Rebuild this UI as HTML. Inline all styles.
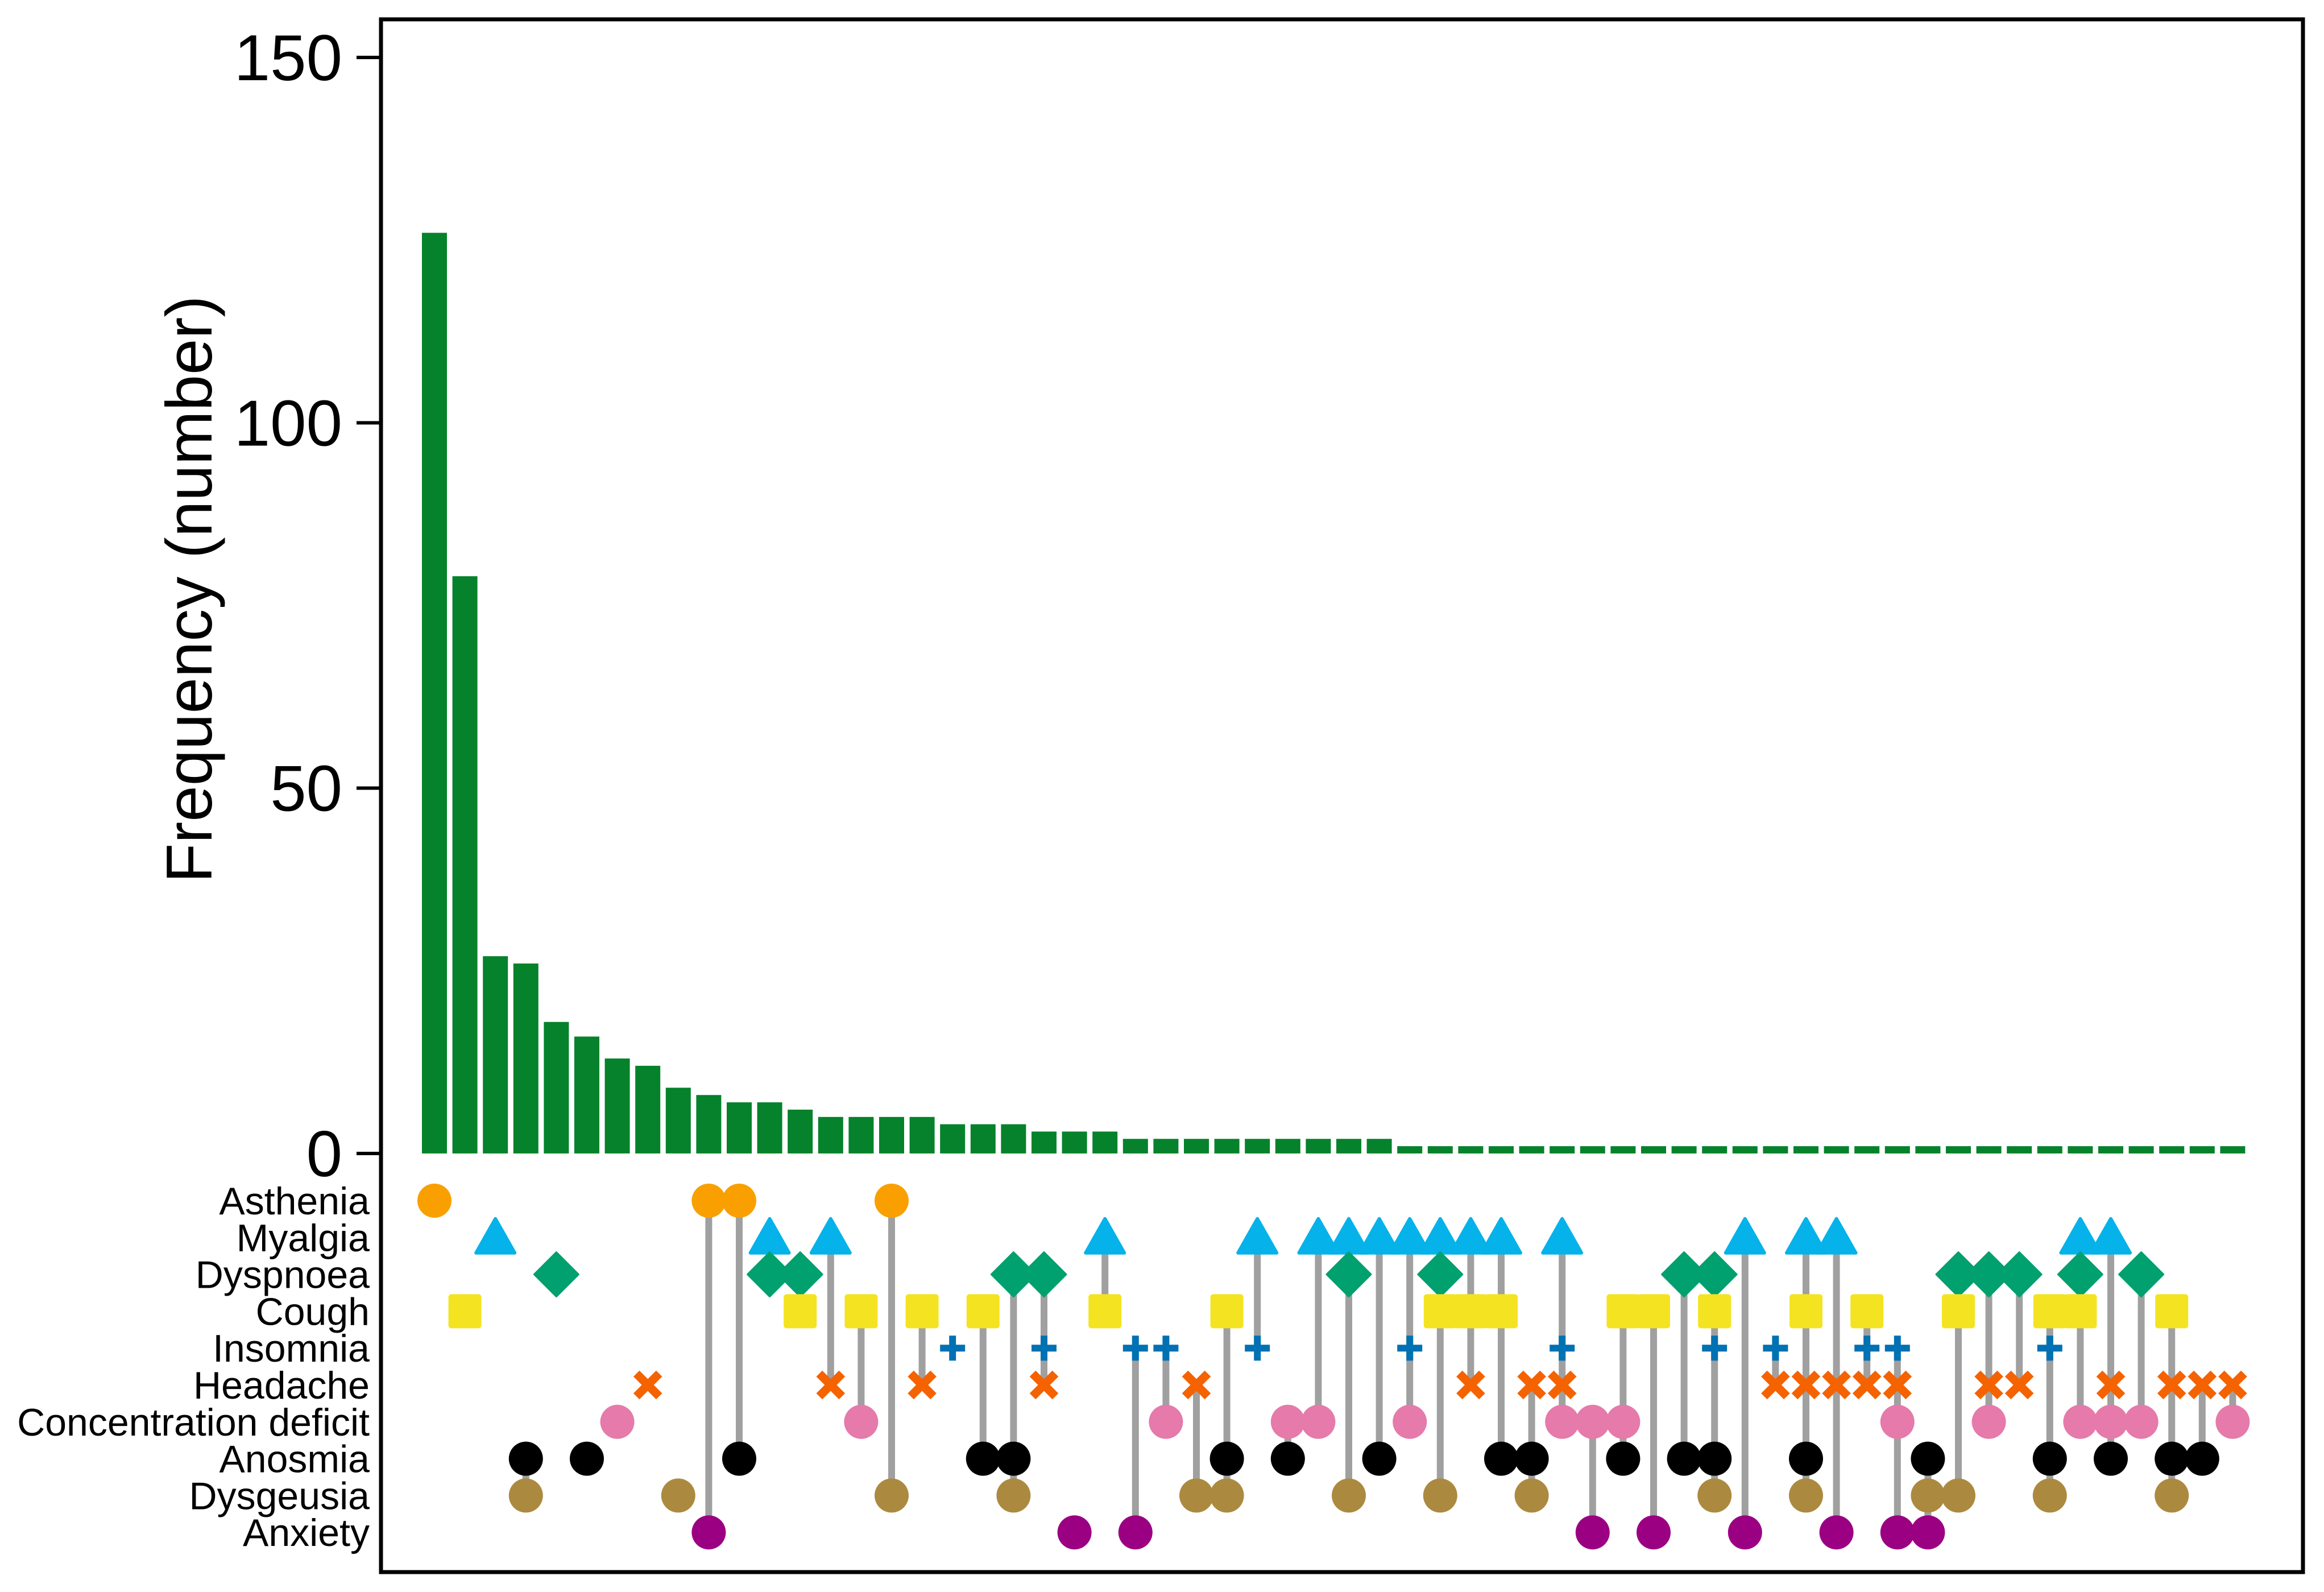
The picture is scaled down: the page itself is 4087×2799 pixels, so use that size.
<!DOCTYPE html>
<html><head><meta charset="utf-8"><style>
html,body{margin:0;padding:0;background:#fff;}
svg{display:block;font-family:"Liberation Sans",Arial,sans-serif;}
</style></head><body>
<svg id="chart" xmlns="http://www.w3.org/2000/svg" width="4087" height="2799" viewBox="0 0 4087 2799">
<rect x="0" y="0" width="4087" height="2799" fill="#fff"/>
<g id="bars"></g>
<g id="matrix"></g>
<g id="axes"></g>
<rect x="670" y="34" width="3380" height="2730" fill="none" stroke="#000" stroke-width="7"/>
<text x="372" y="1036" font-size="114" text-anchor="middle" transform="rotate(-90 372 1036)">Frequency (number)</text>
</svg>
<script>
const symptoms = ["Asthenia","Myalgia","Dyspnoea","Cough","Insomnia","Headache","Concentration deficit","Anosmia","Dysgeusia","Anxiety"];
const frequencies = [126,79,27,26,18,16,13,12,9,8,7,7,6,5,5,5,5,4,4,4,3,3,3,2,2,2,2,2,2,2,2,2,1,1,1,1,1,1,1,1,1,1,1,1,1,1,1,1,1,1,1,1,1,1,1,1,1,1,1,1];
const combinations = [
 [0],[3],[1],[7,8],[2],[7],[6],[5],[8],[0,9],
 [0,7],[1,2],[2,3],[1,5],[3,6],[0,8],[3,5],[4],[3,7],[2,7,8],
 [2,4,5],[9],[1,3],[4,9],[4,6],[5,8],[3,7,8],[1,4],[6,7],[1,6],
 [1,2,8],[1,7],[1,4,6],[1,2,3,8],[1,3,5],[1,3,7],[5,7,8],[1,4,5,6],[6,9],[3,6,7],
 [3,9],[2,7],[2,3,4,7,8],[1,9],[4,5],[1,3,5,7,8],[1,5,9],[3,4,5],[4,5,6,9],[7,8,9],
 [2,3,8],[2,5,6],[2,5],[3,4,7,8],[1,2,3,6],[1,5,6,7],[2,6],[3,5,7,8],[5,7],[5,6]
];
const yTicks = [0,50,100,150];

const NS="http://www.w3.org/2000/svg";
const x0=764, step=53.6, y0=2028, yPerUnit=(2028-101)/150;
const rowY0=2111, rowStep=64.8;
const xCol=i=>x0+i*step;
const yVal=v=>y0-v*yPerUnit;
const yRow=r=>rowY0+r*rowStep;
function mk(tag,attrs,parent){const e=document.createElementNS(NS,tag);for(const k in attrs)e.setAttribute(k,attrs[k]);parent.appendChild(e);return e;}
const bars=document.getElementById('bars'),matrix=document.getElementById('matrix'),axes=document.getElementById('axes');

frequencies.forEach((v,i)=>{
  const r=mk('rect',{x:xCol(i)-22,y:yVal(v),width:44,height:v*yPerUnit,fill:'#05822b'},bars);
  
  
});

yTicks.forEach(t=>{
  const l=mk('line',{x1:627,x2:670,y1:yVal(t),y2:yVal(t),stroke:'#000','stroke-width':6},axes);
  
  
  const tx=mk('text',{x:602,y:yVal(t)+40,'font-size':114,'text-anchor':'end'},axes);
  tx.textContent=t;
  
  
});

symptoms.forEach((s,r)=>{
  const tx=mk('text',{x:650,y:yRow(r)+24,'font-size':68,'text-anchor':'end'},axes);
  tx.textContent=s;
  
  
});

const colors=['#f9a000','#05b2ea','#01a06f','#f4e321','#0071b3','#f56200','#e57aab','#000000','#ab8a40','#9b0083'];
function marker(r,cx,cy,g){
  const c=colors[r];let e;
  if(r===1){e=mk('polygon',{points:`${cx},${cy-33} ${cx+34},${cy+27} ${cx-34},${cy+27}`,fill:c,stroke:c,'stroke-width':6,'stroke-linejoin':'round'},g);}
  else if(r===2){e=mk('polygon',{points:`${cx},${cy-39} ${cx+39},${cy} ${cx},${cy+39} ${cx-39},${cy}`,fill:c,stroke:c,'stroke-width':3,'stroke-linejoin':'round'},g);}
  else if(r===3){e=mk('rect',{x:cx-29,y:cy-30,width:58,height:60,rx:5,fill:c},g);}
  else if(r===4){e=mk('path',{d:`M${cx-22},${cy}H${cx+22}M${cx},${cy-22}V${cy+22}`,stroke:c,'stroke-width':12,fill:'none'},g);}
  else if(r===5){e=mk('path',{d:`M${cx-20},${cy-20}L${cx+20},${cy+20}M${cx+20},${cy-20}L${cx-20},${cy+20}`,stroke:c,'stroke-width':15,fill:'none'},g);}
  else {e=mk('circle',{cx:cx,cy:cy,r:30,fill:c},g);}
  
  
}
combinations.forEach((combo,i)=>{
  const g=mk('g',{},matrix);
  
  
  const cx=xCol(i);
  if(combo.length>1){
    const ln=mk('line',{x1:cx,x2:cx,y1:yRow(Math.min(...combo)),y2:yRow(Math.max(...combo)),stroke:'#a0a0a0','stroke-width':12},g);
    
    
  }
  combo.forEach(r=>marker(r,cx,yRow(r),g));
});
</script>
</body></html>
